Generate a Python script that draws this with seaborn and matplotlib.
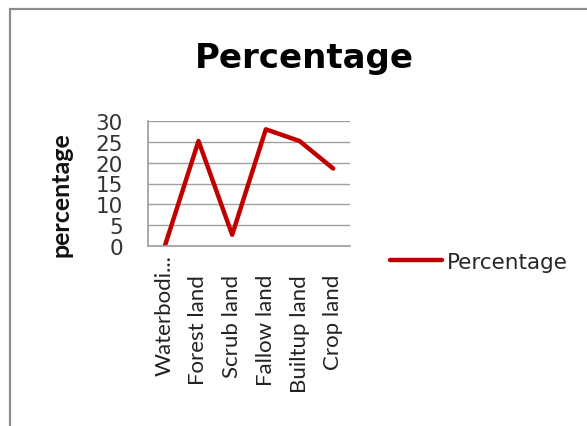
import matplotlib
matplotlib.use("Agg")
import matplotlib.pyplot as plt
from matplotlib.patches import Rectangle
from matplotlib.transforms import ScaledTranslation
import seaborn as sns
import pandas as pd

categories = ["Waterbodi...", "Forest land", "Scrub land", "Fallow land", "Builtup land", "Crop land"]
percentage = [0, 25.2, 2.7, 28.0, 25.2, 18.6]
y_ticks = [0, 5, 10, 15, 20, 25, 30]

sns.set_theme(style="white")
plt.rcParams["font.family"] = ["Lato", "DejaVu Sans"]

df = pd.DataFrame({"category": categories, "value": percentage})
df["pos"] = range(len(categories))

fig = plt.figure(figsize=(5.87, 4.27), dpi=100)
fig.patch.set_facecolor("white")

# chart-area frame, running off the right and bottom edges
fig.add_artist(Rectangle((10 / 587, -0.1), 1.0, (427 - 10) / 427 + 0.1,
                         transform=fig.transFigure, fill=False,
                         edgecolor="#8c8c8c", linewidth=1.6))

ax = fig.add_axes([148 / 587, (427 - 247) / 427, (350 - 148) / 587, 125 / 427])
sns.lineplot(data=df, x="pos", y="value", ax=ax, color="#C00000",
             linewidth=3.2, label="Percentage", sort=False)

ax.set_xlim(-0.5, len(categories) - 0.5)
ax.set_ylim(0, 30)
ax.set_yticks(y_ticks)
ax.set_yticklabels([str(v) for v in y_ticks], fontsize=15.5,
                   fontfamily="DejaVu Sans", color="#333333")
ax.set_xticks(range(len(categories)))
ax.set_xticklabels(categories, rotation=90, fontsize=16, color="#222222")
ax.tick_params(axis="y", length=0, pad=18)
ax.tick_params(axis="x", length=0, pad=20)
# the truncated first label reaches a little higher
first = ax.get_xticklabels()[0]
first.set_transform(first.get_transform() + ScaledTranslation(0, 20 / 100, fig.dpi_scale_trans))

for v in y_ticks:
    ax.axhline(v, color="#a0a0a0", linewidth=1.0, zorder=0)
for side in ["top", "right"]:
    ax.spines[side].set_visible(False)
ax.spines["left"].set_color("#a0a0a0")
ax.spines["bottom"].set_color("#a0a0a0")
ax.set_xlabel("")
ax.set_ylabel("percentage", fontsize=18, fontweight="bold", color="#111111")
ax.yaxis.set_label_coords((73 - 148) / 202, (247 - 194.5) / 125)

ax.legend(loc="center left", bbox_to_anchor=((390 - 148) / 202, (247 - 263) / 125),
          frameon=False, borderaxespad=0, borderpad=0,
          prop={"family": "DejaVu Sans", "size": 15.5},
          handlelength=2.4, handletextpad=0.25)

fig.text(304 / 587, 1 - 68 / 427, "Percentage", ha="center", va="baseline",
         fontsize=24.5, fontweight="bold", fontfamily="DejaVu Sans", color="black")

fig.savefig("out.png", dpi=100)
